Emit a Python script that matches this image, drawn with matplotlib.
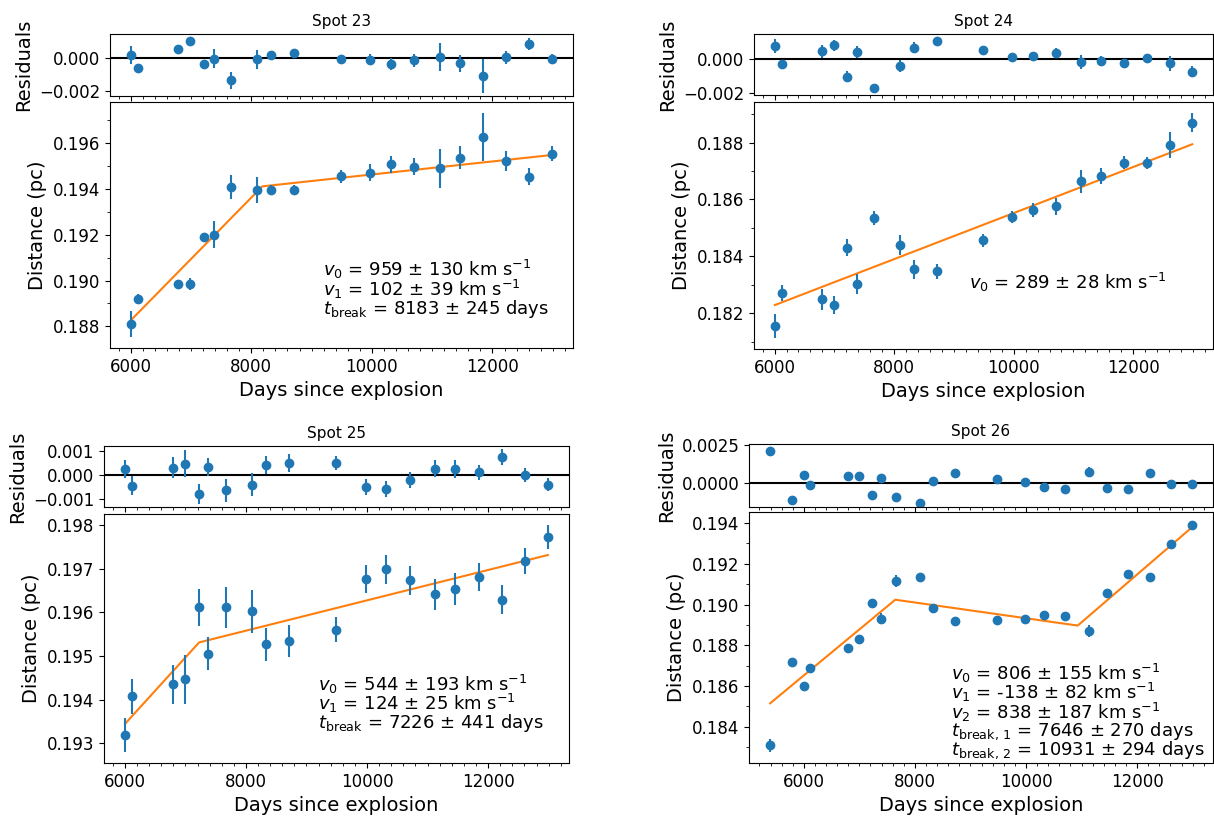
import numpy as np
import matplotlib
matplotlib.use("Agg")
import matplotlib.pyplot as plt
from matplotlib.ticker import MultipleLocator

# km/s -> pc/day
KMS_TO_PC_PER_DAY = 86400.0 / 3.0857e13

# observation epochs (days since explosion)
epochs = [6005, 6116, 6788, 6986, 7220, 7381, 7663, 8096, 8326, 8716,
          9482, 9976, 10321, 10704, 11125, 11461, 11844, 12223, 12608, 12987]
epochs_26 = [5393, 5792] + epochs

# Spot 23
dist_23 = [0.18810, 0.18920, 0.18984, 0.18985, 0.19190, 0.19201, 0.19408, 0.19396, 0.19395, 0.19396,
           0.19456, 0.19472, 0.19508, 0.19498, 0.19491, 0.19538, 0.19627, 0.19523, 0.19453, 0.19555]
err_23 = [0.00056, 0.00023, 0.00014, 0.00025, 0.00020, 0.00058, 0.00053, 0.00058, 0.00023, 0.00022,
          0.00028, 0.00036, 0.00036, 0.00038, 0.00086, 0.00052, 0.00105, 0.00042, 0.00037, 0.00033]
vel_23 = [959, 102]
vel_err_23 = [130, 39]
breaks_23 = [8183]
break_err_23 = [245]
start_23 = 0.18827

# Spot 24
dist_24 = [0.18155, 0.18271, 0.18249, 0.18230, 0.18431, 0.18304, 0.18534, 0.18439, 0.18354, 0.18348,
           0.18457, 0.18540, 0.18562, 0.18576, 0.18664, 0.18683, 0.18729, 0.18729, 0.18791, 0.18870]
err_24 = [0.00041, 0.00027, 0.00037, 0.00032, 0.00031, 0.00035, 0.00024, 0.00035, 0.00032, 0.00027,
          0.00023, 0.00021, 0.00024, 0.00030, 0.00041, 0.00029, 0.00023, 0.00022, 0.00046, 0.00033]
vel_24 = [289]
vel_err_24 = [28]
breaks_24 = []
break_err_24 = []
start_24 = 0.18229

# Spot 25
dist_25 = [0.19319, 0.19408, 0.19435, 0.19447, 0.19611, 0.19505, 0.19611, 0.19602, 0.19527, 0.19534,
           0.19560, 0.19676, 0.19698, 0.19673, 0.19641, 0.19653, 0.19680, 0.19629, 0.19718, 0.19772]
err_25 = [0.00038, 0.00040, 0.00044, 0.00056, 0.00042, 0.00038, 0.00047, 0.00049, 0.00038, 0.00037,
          0.00029, 0.00033, 0.00033, 0.00034, 0.00036, 0.00036, 0.00032, 0.00034, 0.00030, 0.00027]
vel_25 = [544, 124]
vel_err_25 = [193, 25]
breaks_25 = [7226]
break_err_25 = [441]
start_25 = 0.19345

# Spot 26
dist_26 = [0.18308, 0.18719, 0.18600, 0.18689, 0.18786, 0.18831, 0.19006, 0.18931, 0.19115, 0.19135,
           0.18984, 0.18919, 0.18926, 0.18929, 0.18948, 0.18944, 0.18869, 0.19056, 0.19150, 0.19136,
           0.19295, 0.19388]
err_26 = [0.00030, 0.00010, 0.00010, 0.00010, 0.00010, 0.00010, 0.00012, 0.00026, 0.00028, 0.00010,
          0.00010, 0.00010, 0.00010, 0.00010, 0.00010, 0.00010, 0.00030, 0.00010, 0.00010, 0.00010,
          0.00010, 0.00010]
vel_26 = [806, -138, 838]
vel_err_26 = [155, 82, 187]
breaks_26 = [7646, 10931]
break_err_26 = [270, 294]
start_26 = 0.18515


def broken_line(t, t0, d0, vels, breaks):
    t = np.asarray(t, dtype=float)
    d = np.full_like(t, d0)
    edges = [t0] + list(breaks) + [np.inf]
    for v, a, b in zip(vels, edges[:-1], edges[1:]):
        d += v * KMS_TO_PC_PER_DAY * (np.clip(t, a, b) - a)
    return d


def fit_label(vels, vel_errs, breaks, break_errs):
    lines = []
    for i, (v, e) in enumerate(zip(vels, vel_errs)):
        lines.append(f"$v_{i}$ = {v} $\\pm$ {e} km s$^{{-1}}$")
    for i, (b, e) in enumerate(zip(breaks, break_errs)):
        sub = "break" if len(breaks) == 1 else f"break,\\,{i + 1}"
        lines.append(f"$t_{{\\mathrm{{{sub}}}}}$ = {b} $\\pm$ {e} days")
    return "\n".join(lines)


def plot_spot(fig, res_rect, main_rect, name, t, d, err, vels, vel_errs,
              breaks, break_errs, d_start, text_xy):
    ax_r = fig.add_axes(res_rect)
    ax = fig.add_axes(main_rect, sharex=ax_r)
    t = np.asarray(t, dtype=float)
    d = np.asarray(d)

    model = broken_line(t, t[0], d_start, vels, breaks)
    t_line = np.array([t[0]] + list(breaks) + [t[-1]], dtype=float)
    ax.plot(t_line, broken_line(t_line, t[0], d_start, vels, breaks), color='C1', lw=1.5)
    ax.errorbar(t, d, yerr=err, fmt='o', color='C0', ms=6)

    ax_r.axhline(0, color='k', lw=1.5)
    ax_r.errorbar(t, model - d, yerr=err, fmt='o', color='C0', ms=6)
    ax_r.set_title(name, fontsize=11)
    ax_r.set_ylabel('Residuals', fontsize=14)
    ax_r.tick_params(labelbottom=False, labelsize=12)

    ax.set_xlabel('Days since explosion', fontsize=14)
    ax.set_ylabel('Distance (pc)', fontsize=14)
    ax.tick_params(labelsize=12)
    ax.xaxis.set_major_locator(MultipleLocator(2000))
    ax.xaxis.set_minor_locator(MultipleLocator(200))
    ax.yaxis.set_minor_locator(MultipleLocator(0.001))

    ax.text(text_xy[0], text_xy[1], fit_label(vels, vel_errs, breaks, break_errs),
            transform=ax.transAxes, fontsize=13, ha='left', va='center', linespacing=0.8)
    return ax_r, ax


fig = plt.figure(figsize=(12.14, 8.17), dpi=100)

plot_spot(fig, [0.0906, 0.8825, 0.3814, 0.0759], [0.0906, 0.5741, 0.3814, 0.3011],
          'Spot 23', epochs, dist_23, err_23, vel_23, vel_err_23,
          breaks_23, break_err_23, start_23, (0.46, 0.24))
plot_spot(fig, [0.6211, 0.8837, 0.3781, 0.0747], [0.6211, 0.5728, 0.3781, 0.3023],
          'Spot 24', epochs, dist_24, err_24, vel_24, vel_err_24,
          breaks_24, break_err_24, start_24, (0.468, 0.27))
plot_spot(fig, [0.0857, 0.3794, 0.3830, 0.0747], [0.0857, 0.0661, 0.3830, 0.3048],
          'Spot 25', epochs, dist_25, err_25, vel_25, vel_err_25,
          breaks_25, break_err_25, start_25, (0.46, 0.24))
plot_spot(fig, [0.6170, 0.3794, 0.3822, 0.0771], [0.6170, 0.0661, 0.3822, 0.3072],
          'Spot 26', epochs_26, dist_26, err_26, vel_26, vel_err_26,
          breaks_26, break_err_26, start_26, (0.435, 0.207))

fig.savefig('out.png', dpi=100)
